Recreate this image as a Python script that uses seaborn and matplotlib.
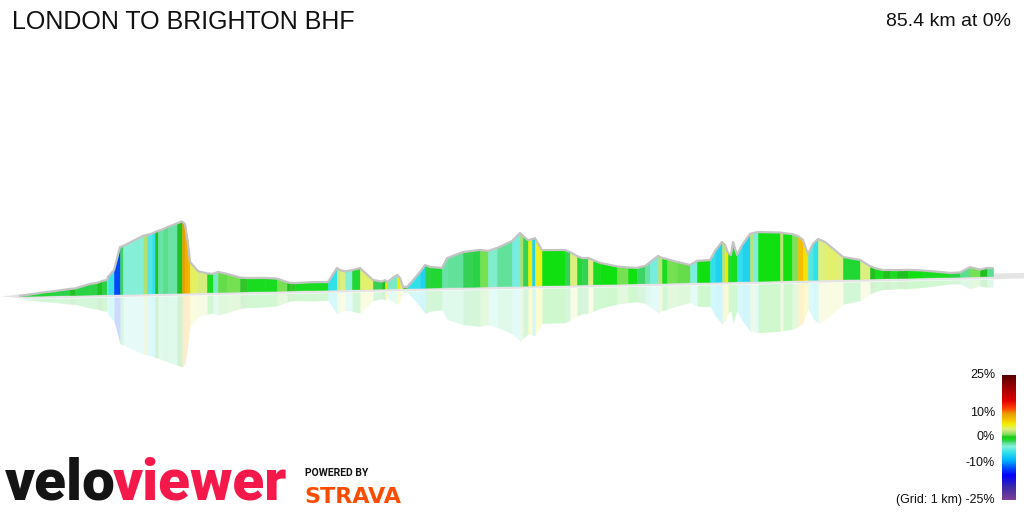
"""
3D-style gradient profile for the London to Brighton BHF route, veloviewer look.
"""

import matplotlib
matplotlib.use("Agg")
import matplotlib.pyplot as plt  # noqa: E402
import numpy as np  # noqa: E402
import pandas as pd  # noqa: E402
import seaborn as sns  # noqa: E402
from matplotlib.colors import LinearSegmentedColormap, Normalize  # noqa: E402

TITLE = "LONDON TO BRIGHTON BHF"
TOTAL_KM = 85.4
NET_GRADE = 0

# distance along the drawn profile (km) and elevation above the lowest point (m)
DIST_KM = [
    0.00, 1.76, 3.07, 4.39, 4.83, 6.14, 6.76, 7.20, 7.64, 7.72,
    8.25, 8.78, 9.04, 10.80, 11.15, 11.59, 11.85, 12.11, 12.55, 12.99,
    13.78, 14.22, 14.48, 14.70, 14.92, 15.62, 16.41, 16.94, 17.38, 18.17,
    19.31, 19.92, 21.50, 22.56, 23.43, 23.70, 24.14, 25.72, 27.03, 27.82,
    28.09, 28.53, 29.14, 29.84, 30.98, 31.77, 32.04, 32.21, 33.09, 33.35,
    33.62, 33.97, 35.11, 35.55, 35.99, 37.04, 37.48, 38.88, 39.67, 40.37,
    41.08, 41.87, 43.18, 43.89, 44.15, 44.59, 44.94, 45.20, 45.82, 47.83,
    48.27, 48.89, 49.33, 49.85, 50.29, 50.91, 52.40, 53.36, 54.15, 54.86,
    55.30, 56.00, 56.35, 56.79, 57.67, 58.81, 59.42, 60.56, 61.00, 61.61,
    61.88, 62.14, 62.40, 62.58, 62.93, 63.37, 64.07, 64.33, 64.77, 66.71,
    66.97, 67.76, 68.29, 68.72, 69.16, 69.60, 70.04, 70.65, 71.71, 72.23,
    73.73, 74.60, 75.04, 75.75, 76.36, 76.97, 77.94, 79.26, 81.63, 82.50,
    83.38, 84.26, 84.87, 85.40,
]
ELEV_M = [
    0, 9, 14, 20, 21, 35, 38, 44, 47, 57,
    79, 155, 158, 190, 193, 197, 202, 205, 211, 218,
    229, 235, 226, 173, 101, 70, 62, 60, 66, 59,
    46, 44, 43, 40, 28, 25, 24, 26, 25, 71,
    64, 59, 63, 69, 29, 23, 28, 21, 44, 34,
    4, 3, 52, 75, 68, 64, 96, 115, 118, 121,
    117, 126, 148, 174, 164, 150, 153, 156, 116, 115,
    108, 94, 87, 87, 80, 70, 57, 53, 51, 57,
    69, 89, 82, 78, 68, 57, 70, 72, 101, 131,
    120, 94, 87, 130, 87, 119, 155, 158, 161, 158,
    156, 152, 145, 132, 85, 118, 134, 124, 90, 73,
    62, 41, 34, 27, 27, 26, 26, 23, 13, 14,
    31, 22, 27, 26,
]
# gradient (%) of each segment between consecutive points, in riding direction
GRADE_PCT = [
    -1.0, -0.8, -1.0, 0.2, -1.0, -1.0, 0.3, -1.0, -3.5, -5.5,
    -12.5, -1.5, -3.5, 2.2, -5.0, -6.0, 0.3, -2.5, -2.0, -2.4,
    0.3, 9.5, 8.5, 8.0, 4.0, 3.2, -0.6, -3.0, 1.0, 1.2,
    0.5, -0.6, -0.6, 1.2, 0.3, 0.4, -0.6, -0.6, -6.0, 3.0,
    3.5, -3.5, -0.8, 3.8, -1.2, 0.3, 6.0, -3.0, 5.5, 3.5,
    0.3, -6.0, -7.0, -1.0, -0.8, -2.5, -2.2, -1.3, -1.1, 1.2,
    -3.2, -2.2, -4.0, 2.0, -1.3, 5.5, -7.0, 5.0, -0.5, -1.2,
    3.5, -0.8, -1.2, 3.5, -0.6, -0.5, 1.2, -0.5, -1.5, -2.5,
    -4.0, 2.5, -0.6, 1.2, 1.0, -3.8, -0.5, -6.0, -7.0, 2.5,
    5.5, -0.8, -0.5, -0.6, -6.0, -7.0, 2.5, -3.8, -0.5, 2.5,
    -0.5, 1.5, 7.5, 6.0, -5.0, -6.0, 3.5, 3.8, 3.5, -0.9,
    3.5, 0.3, -0.6, 0.3, -0.6, 0.3, -0.5, -0.7, -1.0, -2.0,
    1.2, 0.3, -2.0,
]
LEGEND_TICKS = [25, 10, 0, -10, -25]

# colour ramp for gradients (-25% .. 25%)
GRADE_STOPS = [-25, -20, -15, -12, -9, -6, -3.5, -2.2, -1.2, -0.5, 0.3,
               1.2, 2.2, 3.5, 5.5, 7.5, 9.5, 12, 15, 20, 25]
STOP_COLORS = ["#7f3f98", "#3b2aa6", "#0000ff", "#0055ff", "#00b4ff",
               "#30e0e8", "#88f0dc", "#60e098", "#30d050", "#10e010",
               "#20c020", "#70e050", "#b0e070", "#e0f080", "#f0f000",
               "#f5c000", "#e8a000", "#ff4000", "#e00000", "#a00000",
               "#5a0000"]
cmap = LinearSegmentedColormap.from_list(
    "grade", [((g + 25) / 50, c) for g, c in zip(GRADE_STOPS, STOP_COLORS)]
)
norm = Normalize(-25, 25)

# pixel mapping of the "camera"
W, H = 1024, 512
PX_PER_KM = 973 / TOTAL_KM
M_PER_PX = 3.3
TILT = 20 / TOTAL_KM * M_PER_PX  # ground rises to the right (perspective)
GAP = 10  # metres between ground and reflection

sns.set_theme(style="white")
plt.rcParams["font.family"] = ["Liberation Sans", "DejaVu Sans"]

fig = plt.figure(figsize=(W / 100, H / 100), dpi=100)
fig.patch.set_facecolor("white")
ax = fig.add_axes([0, 0, 1, 1])
ax.set_xlim(-20 / PX_PER_KM, (W - 20) / PX_PER_KM)
ax.set_ylim((296 - H) * M_PER_PX, 296 * M_PER_PX)
ax.axis("off")

df = pd.DataFrame({"km": DIST_KM, "elev": ELEV_M})
df["base"] = df["km"] * TILT
df["top"] = df["base"] + df["elev"]
assert len(GRADE_PCT) == len(df) - 1

# ground plane sliver
gx = np.array([-1.6, 0.6, 88.3, 88.3, 0.6])
gy = np.array([-1.6 * TILT, 0.6 * TILT + 8, 88.3 * TILT + 8,
               88.3 * TILT - GAP, 0.6 * TILT - GAP])
ax.fill(gx, gy, color="#e4e4e4", lw=0, zorder=1)

for i, g in enumerate(GRADE_PCT):
    a, b = df.iloc[i], df.iloc[i + 1]
    col = cmap(norm(g))
    xs = [a["km"], b["km"]]
    # wall
    ax.fill_between(xs, [a["base"], b["base"]], [a["top"], b["top"]],
                    color=col, lw=0.4, edgecolor=col, zorder=2)
    # reflection
    r0 = [a["base"] - GAP, b["base"] - GAP]
    r1 = [a["base"] - GAP - a["elev"], b["base"] - GAP - b["elev"]]
    ax.fill_between(xs, r0, r1, color=col, alpha=0.2, lw=0, zorder=1.5)

sns.lineplot(data=df, x="km", y="top", color="#c4c4c4", lw=1.6,
             estimator=None, sort=False, ax=ax, zorder=3)

# titles
fig.text(12 / W, 1 - 22 / H, TITLE, fontsize=18, color="#111111",
         ha="left", va="center")
fig.text(1011 / W, 1 - 22 / H, f"{TOTAL_KM} km at {NET_GRADE}%",
         fontsize=14, color="#111111", ha="right", va="center")

# gradient legend
cax = fig.add_axes([1002 / W, 12 / H, 14 / W, 125 / H])
ramp = pd.DataFrame({"g": np.linspace(25, -25, 250)})
sns.heatmap(ramp, cmap=cmap, vmin=-25, vmax=25, cbar=False, ax=cax,
            xticklabels=False, yticklabels=False)
cax.set_xlabel("")
cax.set_ylabel("")
for t in LEGEND_TICKS:
    py = 375 + (25 - t) * 2.5
    label = f"{t}%" if t != -25 else f"(Grid: 1 km) {t}%"
    fig.text(995 / W, 1 - py / H, label, fontsize=9, color="#111111",
             ha="right", va="center")

# logos
renderer = fig.canvas.get_renderer()
velo = fig.text(5 / W, 1 / H, "velo", fontsize=42, fontweight="black",
                family=["Roboto", "DejaVu Sans"], color="#141414",
                ha="left", va="bottom")
bb = velo.get_window_extent(renderer)
fig.text((bb.x1 - 3) / W, 1 / H, "viewer", fontsize=42, fontweight="black",
         family=["Roboto", "DejaVu Sans"], color="#f5184a",
         ha="left", va="bottom")
fig.text(305 / W, 1 - 473 / H, "POWERED BY", fontsize=7.5, fontweight="bold",
         family=["Roboto", "DejaVu Sans"], color="#111111",
         ha="left", va="center")
fig.text(304 / W, 9 / H, "STRAVA", fontsize=16, fontweight="bold",
         family=["DejaVu Sans"], color="#fc4c02",
         ha="left", va="baseline")

fig.savefig("out.png", dpi=100)
plt.close(fig)
